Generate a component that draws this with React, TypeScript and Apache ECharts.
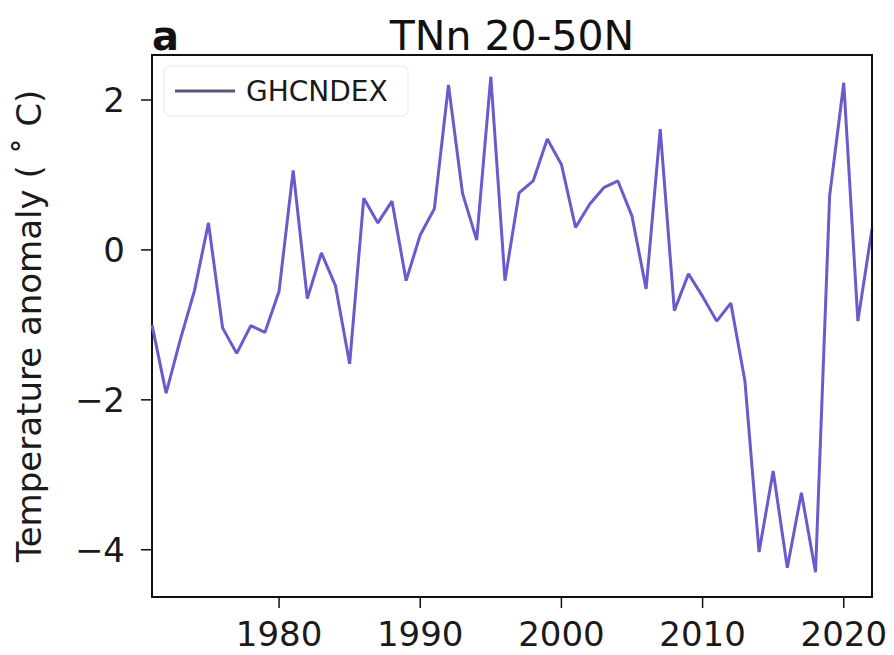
import React, { useEffect, useRef } from "react";
import * as echarts from "echarts";

// Annual TNn anomaly, 20-50N, GHCNDEX
const years: number[] = [
  1971, 1972, 1973, 1974, 1975, 1976, 1977, 1978, 1979, 1980,
  1981, 1982, 1983, 1984, 1985, 1986, 1987, 1988, 1989, 1990,
  1991, 1992, 1993, 1994, 1995, 1996, 1997, 1998, 1999, 2000,
  2001, 2002, 2003, 2004, 2005, 2006, 2007, 2008, 2009, 2010,
  2011, 2012, 2013, 2014, 2015, 2016, 2017, 2018, 2019, 2020,
  2021, 2022,
];
const anomaly: number[] = [
  -1.0, -1.91, -1.2, -0.55, 0.36, -1.04, -1.38, -1.01, -1.1, -0.55,
  1.06, -0.65, -0.04, -0.48, -1.52, 0.69, 0.36, 0.65, -0.41, 0.2,
  0.55, 2.2, 0.75, 0.13, 2.31, -0.41, 0.76, 0.92, 1.48, 1.14,
  0.3, 0.61, 0.83, 0.92, 0.45, -0.52, 1.61, -0.81, -0.32, -0.62,
  -0.95, -0.71, -1.75, -4.03, -2.95, -4.24, -3.24, -4.3, 0.72, 2.23,
  -0.95, 0.28,
];
const xTicks: number[] = [1980, 1990, 2000, 2010, 2020];
const yTicks: number[] = [-4, -2, 0, 2];

const X_MIN = 1971;
const X_MAX = 2022;
const Y_MIN = -4.63;
const Y_MAX = 2.6;

const GRID = { left: 152, right: 22, top: 55, bottom: 58 };
const W = 894;
const H = 655;

const FONT = "DejaVu Sans";
const INK = "#1a1a1a";
const TICK_LEN = 11;

export default function App() {
  const ref = useRef<HTMLDivElement>(null);

  useEffect(() => {
    if (!ref.current) return;
    const chart = echarts.init(ref.current, undefined, { renderer: "svg" });
    const data = years.map((y, i) => [y, anomaly[i]]);
    const fmt = (v: number) => (v < 0 ? "\u2212" + Math.abs(v) : String(v));

    chart.setOption({
      animation: false,
      backgroundColor: "#ffffff",
      grid: GRID,
      xAxis: {
        type: "value",
        min: X_MIN,
        max: X_MAX,
        axisLine: { show: true, onZero: false, lineStyle: { color: "#111", width: 2 } },
        splitLine: { show: false },
        axisTick: { show: false },
        axisLabel: {
          customValues: xTicks,
          margin: 20,
          color: INK,
          fontFamily: FONT,
          fontSize: 34,
          formatter: (v: number) => String(v),
        },
      },
      yAxis: {
        type: "value",
        min: Y_MIN,
        max: Y_MAX,
        name: "Temperature anomaly ( \u02DA C)",
        nameLocation: "middle",
        nameGap: 106,
        nameRotate: 90,
        nameTextStyle: { fontFamily: FONT, fontSize: 34, color: INK },
        axisLine: { show: true, onZero: false, lineStyle: { color: "#111", width: 2 } },
        splitLine: { show: false },
        axisTick: { show: false },
        axisLabel: {
          customValues: yTicks,
          margin: 27,
          color: INK,
          fontFamily: FONT,
          fontSize: 34,
          formatter: fmt,
        },
      },
      series: [
        {
          type: "line",
          name: "GHCNDEX",
          data,
          showSymbol: false,
          symbol: "none",
          lineStyle: { color: "#6A5ACD", width: 3 },
          z: 3,
        },
      ],
    });

    // Pixel positions from the axes' scales (linear fallback on the grid box)
    const gx = (v: number) => {
      const p = Number(chart.convertToPixel({ xAxisIndex: 0 }, v));
      if (Number.isFinite(p)) return p;
      const w = W - GRID.left - GRID.right;
      return GRID.left + ((v - X_MIN) / (X_MAX - X_MIN)) * w;
    };
    const gy = (v: number) => {
      const p = Number(chart.convertToPixel({ yAxisIndex: 0 }, v));
      if (Number.isFinite(p)) return p;
      const h = H - GRID.top - GRID.bottom;
      return GRID.top + ((Y_MAX - v) / (Y_MAX - Y_MIN)) * h;
    };

    const left = gx(X_MIN);
    const right = gx(X_MAX);
    const top = gy(Y_MAX);
    const bottom = gy(Y_MIN);

    const graphics: any[] = [];

    // top and right edges of the frame
    graphics.push(
      {
        type: "rect",
        shape: { x: left - 1, y: top - 1, width: right - left + 2, height: 2 },
        style: { fill: "#111" },
        z: 100,
      },
      {
        type: "rect",
        shape: { x: right - 1, y: top - 1, width: 2, height: bottom - top + 2 },
        style: { fill: "#111" },
        z: 100,
      }
    );

    // outward tick marks
    xTicks.forEach((v) => {
      const px = gx(v);
      graphics.push({
        type: "rect",
        shape: { x: px - 0.75, y: bottom, width: 1.5, height: TICK_LEN },
        style: { fill: "#111" },
        z: 100,
      });
    });
    yTicks.forEach((v) => {
      const py = gy(v);
      graphics.push({
        type: "rect",
        shape: { x: left - TICK_LEN, y: py - 0.75, width: TICK_LEN, height: 1.5 },
        style: { fill: "#111" },
        z: 100,
      });
    });

    graphics.push(
      {
        type: "text",
        x: 152,
        y: 36,
        style: {
          text: "a",
          fontFamily: FONT,
          fontWeight: "bold",
          fontSize: 40,
          fill: "#111",
          verticalAlign: "middle",
        },
      },
      {
        type: "text",
        x: (left + right) / 2,
        y: 36,
        style: {
          text: "TNn 20-50N",
          fontFamily: FONT,
          fontSize: 41,
          fill: "#111",
          align: "center",
          verticalAlign: "middle",
        },
      },
      {
        type: "rect",
        shape: { x: 164, y: 66, width: 244, height: 50, r: 6 },
        style: { fill: "rgba(255,255,255,0.8)", stroke: "#efefef", lineWidth: 1.5 },
        z: 10,
      },
      {
        type: "line",
        shape: { x1: 175, y1: 91, x2: 235, y2: 91 },
        style: { stroke: "#5b5677", lineWidth: 3 },
        z: 11,
      },
      {
        type: "text",
        x: 246,
        y: 91,
        style: {
          text: "GHCNDEX",
          fontFamily: FONT,
          fontSize: 28,
          fill: INK,
          verticalAlign: "middle",
        },
        z: 11,
      }
    );

    chart.setOption({ graphic: graphics });

    return () => chart.dispose();
  }, []);

  return (
    <div
      ref={ref}
      style={{ position: "absolute", left: 0, top: 0, width: W, height: H }}
    />
  );
}
